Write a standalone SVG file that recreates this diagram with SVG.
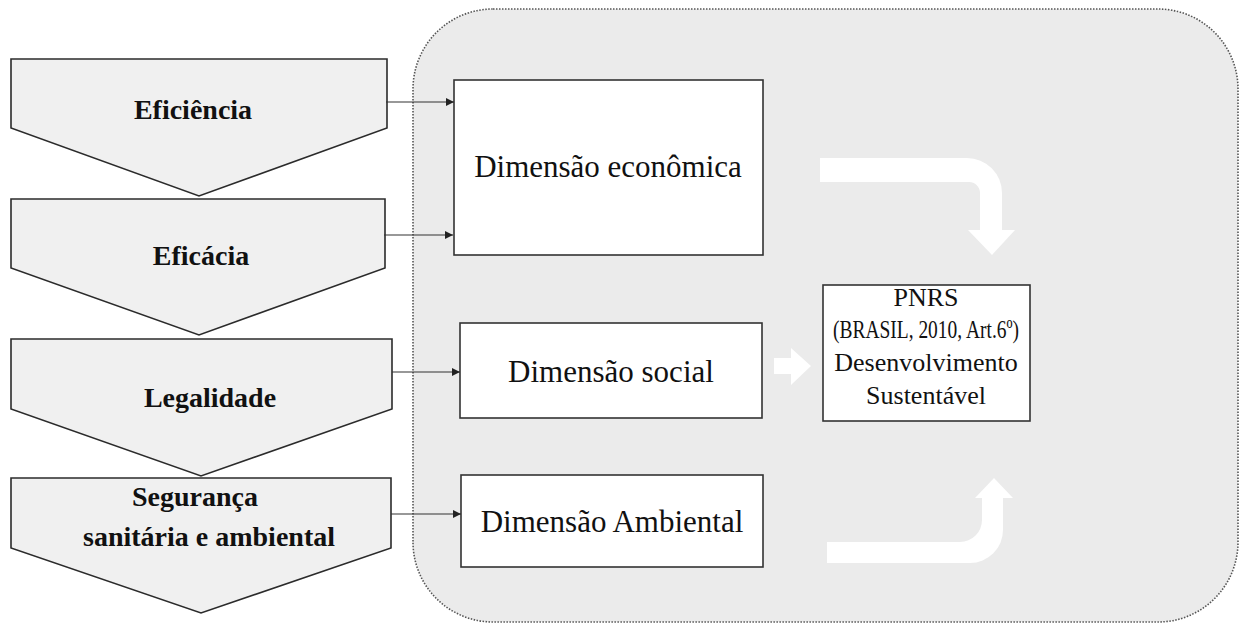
<svg xmlns="http://www.w3.org/2000/svg" width="1243" height="625" viewBox="0 0 1243 625">
<defs>
<style>
.chev{fill:#f0f0f0;stroke:#2b2b2b;stroke-width:1.6}
.box{fill:#ffffff;stroke:#333;stroke-width:1.6}
.lb{font-family:"Liberation Serif","Times New Roman",serif;font-weight:bold;font-size:28px;fill:#111;text-anchor:middle}
.tx{font-family:"Liberation Serif","Times New Roman",serif;font-size:31px;fill:#111;text-anchor:middle}
.px{font-family:"Liberation Serif","Times New Roman",serif;font-size:26px;fill:#111;text-anchor:middle}
.con{stroke:#333;stroke-width:1.2;fill:none;marker-end:url(#ah)}
.wa{fill:#ffffff}
</style>
<marker id="ah" viewBox="0 0 10 10" refX="10" refY="5" markerWidth="8" markerHeight="8" markerUnits="userSpaceOnUse" orient="auto">
<path d="M0,0 L10,5 L0,10 Z" fill="#222"/>
</marker>
</defs>
<rect width="1243" height="625" fill="#ffffff"/>
<g id="container">
<rect x="413" y="9" width="825" height="613" rx="80" ry="80" fill="#ebebeb" stroke="#555" stroke-width="1.6" stroke-dasharray="1.5 1.5"/>
</g>
<g id="chev-eficiencia">
<polygon class="chev" points="11,59 387,59 387,128 199,196 11,128"/>
<text class="lb" x="193" y="119">Eficiência</text>
</g>
<g id="chev-eficacia">
<polygon class="chev" points="11,199 385,199 385,268 199,335 11,268"/>
<text class="lb" x="201" y="265">Eficácia</text>
</g>
<g id="chev-legalidade">
<polygon class="chev" points="11,339 392,339 392,409 201,476 11,409"/>
<text class="lb" x="210" y="407">Legalidade</text>
</g>
<g id="chev-seguranca">
<polygon class="chev" points="11,478 391,478 391,548 201,613 11,548"/>
<text class="lb" x="195" y="506">Segurança</text>
<text class="lb" x="209" y="546">sanitária e ambiental</text>
</g>
<g id="box-economica">
<rect class="box" x="454" y="80" width="309" height="175"/>
<text class="tx" x="608" y="177">Dimensão econômica</text>
</g>
<g id="box-social">
<rect class="box" x="460" y="323" width="302" height="95"/>
<text class="tx" x="611" y="382">Dimensão social</text>
</g>
<g id="box-ambiental">
<rect class="box" x="461" y="475" width="302" height="92"/>
<text class="tx" x="612" y="532">Dimensão Ambiental</text>
</g>
<g id="box-pnrs">
<rect class="box" x="823" y="285" width="207" height="136"/>
<text class="px" x="926" y="306">PNRS</text>
<text class="px" x="926" y="338" textLength="186" lengthAdjust="spacingAndGlyphs">(BRASIL, 2010, Art.6º)</text>
<text class="px" x="926" y="371">Desenvolvimento</text>
<text class="px" x="926" y="404">Sustentável</text>
</g>
<g id="connectors">
<line class="con" x1="386" y1="102" x2="454" y2="102"/>
<line class="con" x1="384" y1="235" x2="453" y2="235"/>
<line class="con" x1="392" y1="372" x2="460" y2="372"/>
<line class="con" x1="391" y1="514" x2="461" y2="514"/>
</g>
<g id="white-arrows">
<path class="wa" d="M820,158 H967 A35,35 0 0 1 1002,193 V230 H1015 L992,255 L968,230 H980 V193 A11,11 0 0 0 969,182 H820 Z"/>
<path class="wa" d="M774,358 H791 V348 L811,366 L791,385 V374 H774 Z"/>
<path class="wa" d="M827,542 H960 A22,22 0 0 0 982,520 V498 H975 L994,478 L1013,498 H1003 V530 A33,33 0 0 1 970,563 H827 Z"/>
</g>
</svg>
